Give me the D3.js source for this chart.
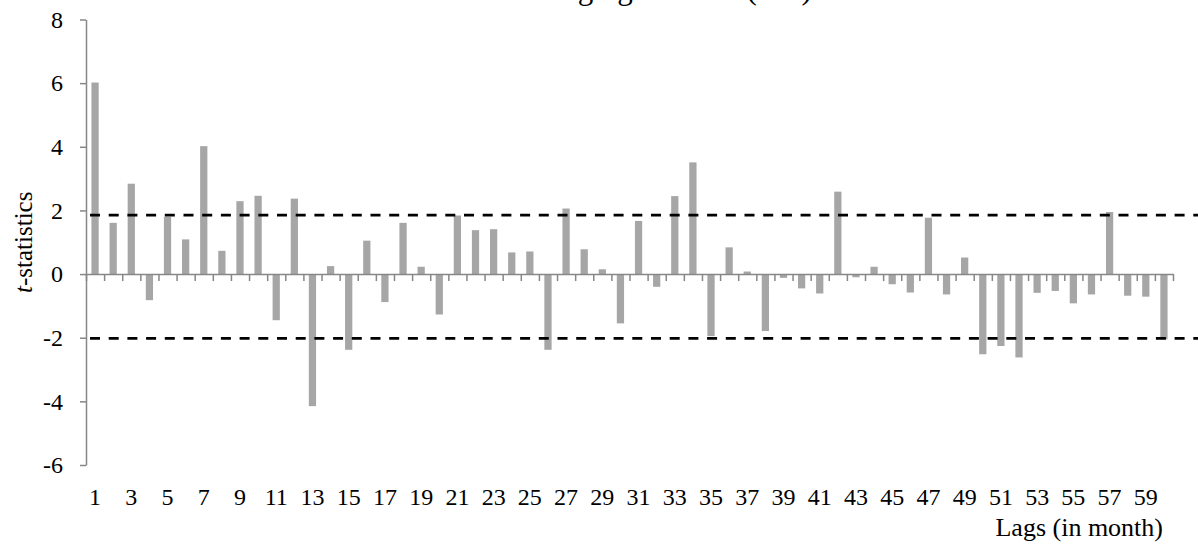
<!DOCTYPE html>
<html>
<head>
<meta charset="utf-8">
<script src="https://cdn.jsdelivr.net/npm/d3@7"></script>
<style>
  html, body { margin: 0; padding: 0; background: #ffffff; }
  svg { display: block; }
</style>
</head>
<body>
<svg id="chart" width="1198" height="550"></svg>
<script>
// Lags in months
const lags = d3.range(1, 61);

// t-statistic for each lag
const tStats = [
  6.02, 1.61, 2.84, -0.82, 1.80, 1.09, 4.02, 0.73, 2.29, 2.46,
  -1.45, 2.37, -4.15, 0.25, -2.38, 1.05, -0.88, 1.61, 0.23, -1.27,
  1.84, 1.38, 1.41, 0.68, 0.71, -2.38, 2.06, 0.78, 0.15, -1.55,
  1.67, -0.40, 2.45, 3.51, -1.95, 0.84, 0.08, -1.79, -0.12, -0.45,
  -0.61, 2.59, -0.10, 0.23, -0.32, -0.58, 1.77, -0.64, 0.52, -2.52,
  -2.26, -2.62, -0.59, -0.53, -0.92, -0.64, 1.95, -0.68, -0.71, -2.05
];

// Critical values drawn as dashed reference lines
const criticalValues = [1.85, -2.02];

// Y-axis tick values and x-axis labelled lags
const yTicks = [-6, -4, -2, 0, 2, 4, 6, 8];
const xLabelLags = lags.filter(d => d % 2 === 1);

const chartTitle = "Hedging demand (HD)";
const yTitle = "statistics";
const xTitle = "Lags (in month)";

const serif = '"Liberation Serif", "Times New Roman", serif';
const svg = d3.select("#chart");
const plot = { left: 86, right: 1173, top: 19.5, bottom: 465 };
const axisColor = "#878787";
const barColor = "#a6a6a6";

const x = d3.scaleBand().domain(lags).range([plot.left, plot.right]).padding(0);
const xEdge = d3.scaleLinear().domain([0, lags.length]).range([plot.left, plot.right]);
const y = d3.scaleLinear().domain([-6, 8]).range([plot.bottom, plot.top]);

// Title (sits partly above the visible area)
svg.append("text")
  .attr("x", 526)
  .attr("y", -1.5)
  .style("font-family", serif)
  .style("font-size", "31px")
  .style("fill", "#000")
  .text(chartTitle);

// Bars
const barW = x.bandwidth() * 0.4;
svg.append("g")
  .selectAll("rect")
  .data(lags.map((l, i) => ({ lag: l, v: tStats[i] })))
  .join("rect")
  .attr("x", d => x(d.lag) + (x.bandwidth() - barW) / 2)
  .attr("y", d => y(Math.max(0, d.v)))
  .attr("width", barW)
  .attr("height", d => Math.abs(y(d.v) - y(0)))
  .attr("fill", barColor);

// Y axis
const yAxis = svg.append("g")
  .attr("transform", `translate(${plot.left},0)`)
  .call(d3.axisLeft(y).tickValues(yTicks).tickSize(6).tickPadding(17).tickSizeOuter(0)
    .tickFormat(d => d < 0 ? "-" + Math.abs(d) : d));
yAxis.select(".domain").attr("stroke", axisColor).attr("stroke-width", 1.5);
yAxis.selectAll(".tick line").attr("stroke", axisColor).attr("stroke-width", 1.5);
yAxis.selectAll(".tick text")
  .style("font-family", serif)
  .style("font-size", "24px")
  .style("fill", "#000");

// X axis line at zero with ticks on category boundaries
const xAxis = svg.append("g")
  .attr("transform", `translate(0,${y(0)})`)
  .call(d3.axisBottom(xEdge).tickValues(d3.range(0, lags.length + 1)).tickSize(7).tickSizeOuter(0).tickFormat(""));
xAxis.select(".domain").attr("stroke", axisColor).attr("stroke-width", 1.5);
xAxis.selectAll(".tick line").attr("stroke", axisColor).attr("stroke-width", 1.5);

// X tick labels along the bottom of the plot
const xLabels = svg.append("g")
  .attr("transform", `translate(0,488)`)
  .call(d3.axisBottom(x).tickValues(xLabelLags).tickSize(0).tickPadding(0));
xLabels.select(".domain").remove();
xLabels.selectAll(".tick text")
  .style("font-family", serif)
  .style("font-size", "24px")
  .style("fill", "#000");

// Dashed critical-value lines
svg.append("g")
  .selectAll("line")
  .data(criticalValues)
  .join("line")
  .attr("x1", 90)
  .attr("x2", 1198)
  .attr("y1", d => y(d))
  .attr("y2", d => y(d))
  .attr("stroke", "#000")
  .attr("stroke-width", 2.75)
  .attr("stroke-dasharray", "10,8.7");

// Y axis title with italic t
const yt = svg.append("text")
  .attr("transform", `translate(31.5,${(plot.top + plot.bottom) / 2}) rotate(-90)`)
  .attr("text-anchor", "middle")
  .style("font-family", serif)
  .style("font-size", "25px")
  .style("fill", "#000");
yt.append("tspan").style("font-style", "italic").text("t");
yt.append("tspan").text("-" + yTitle);

// X axis title
svg.append("text")
  .attr("x", 1163)
  .attr("y", 536)
  .attr("text-anchor", "end")
  .style("font-family", serif)
  .style("font-size", "26px")
  .style("fill", "#000")
  .text(xTitle);
</script>
</body>
</html>
